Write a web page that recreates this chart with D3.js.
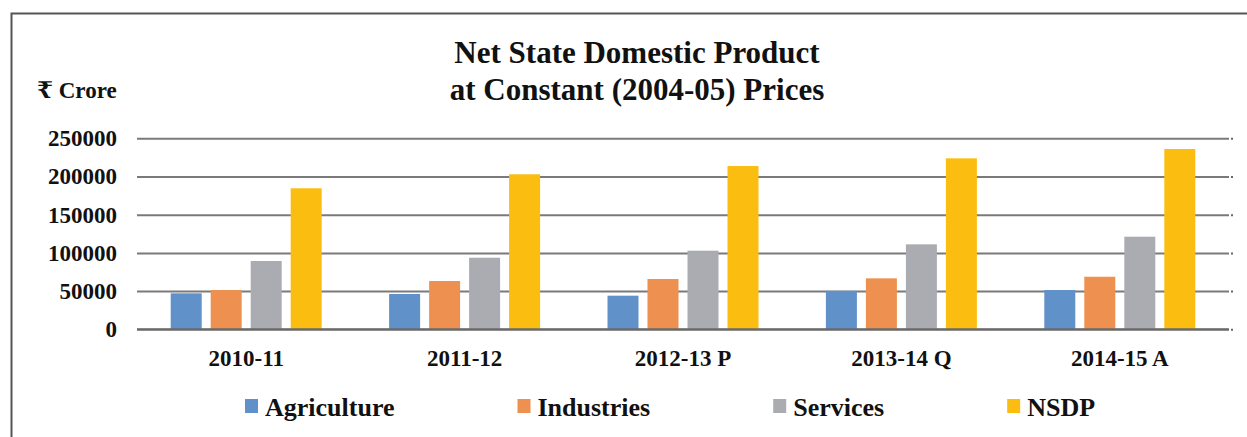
<!DOCTYPE html>
<html>
<head>
<meta charset="utf-8">
<script src="https://cdnjs.cloudflare.com/ajax/libs/d3/7.8.5/d3.min.js"></script>
<style>
  html, body { margin: 0; padding: 0; background: #fff; }
  svg { display: block; }
</style>
</head>
<body>
<div id="chart"></div>
<script>
// Net State Domestic Product at constant (2004-05) prices, ₹ crore
const categories = ["2010-11", "2011-12", "2012-13 P", "2013-14 Q", "2014-15 A"];
const seriesNames = ["Agriculture", "Industries", "Services", "NSDP"];
const agriculture = [47100, 46200, 44000, 50300, 51400];
const industries  = [51400, 63200, 65800, 66700, 68800];
const services    = [89400, 93700, 102900, 111200, 121200];
const nsdp        = [184600, 202900, 213700, 223800, 236000];
const yTicks = [0, 50000, 100000, 150000, 200000, 250000];
const titleLines = ["Net State Domestic Product", "at Constant (2004-05) Prices"];
const unitLabel = "₹ Crore";

const seriesValues = [agriculture, industries, services, nsdp];
const colors = ["#6191c9", "#ee9150", "#abacb2", "#fbbe10"];
const FONT = "'Liberation Serif', 'Times New Roman', 'DejaVu Serif', serif";

const W = 1247, H = 437;
const plot = { left: 137, right: 1229, top: 138.3, bottom: 329.3 };

const svg = d3.select("#chart").append("svg")
  .attr("width", W).attr("height", H)
  .attr("font-family", FONT);

function styleText(sel, size) {
  sel.style("font-family", FONT)
     .style("font-weight", "bold")
     .style("font-size", size + "px")
     .attr("fill", "#111");
  return sel;
}

// frame (top and left edges)
svg.append("path")
  .attr("d", `M11.5,${H} V13.5 H${W}`)
  .attr("fill", "none").attr("stroke", "#555").attr("stroke-width", 2);

const x0 = d3.scaleBand().domain(categories).range([plot.left, plot.right]).padding(0);
const groupW = 151;
const x1 = d3.scaleBand().domain(seriesNames)
  .range([(x0.bandwidth() - groupW) / 2, (x0.bandwidth() + groupW) / 2])
  .paddingInner(0.225).paddingOuter(0);
const y = d3.scaleLinear().domain([0, 250000]).range([plot.bottom, plot.top]);

// gridlines
const grid = svg.append("g")
  .attr("transform", `translate(${plot.left},0)`)
  .call(d3.axisRight(y).tickValues(yTicks).tickSize(plot.right - plot.left).tickFormat(""));
grid.select(".domain").remove();
grid.selectAll("line").attr("stroke", "#7a7a7a").attr("stroke-width", 2);

// small marks at the right end of each gridline
const rmarks = svg.append("g")
  .attr("transform", `translate(${plot.right + 2},0)`)
  .call(d3.axisRight(y).tickValues(yTicks).tickSize(2).tickFormat(""));
rmarks.select(".domain").remove();
rmarks.selectAll("line").attr("stroke", "#666").attr("stroke-width", 2);

// y axis labels
const yAxis = svg.append("g")
  .attr("transform", `translate(${plot.left},0)`)
  .call(d3.axisLeft(y).tickValues(yTicks).tickSize(0).tickPadding(20).tickFormat(d3.format("d")));
yAxis.select(".domain").remove();
styleText(yAxis.selectAll("text"), 23);

// bars
const groups = svg.append("g").selectAll("g")
  .data(categories)
  .join("g")
  .attr("transform", d => `translate(${x0(d)},0)`);

groups.selectAll("rect")
  .data((c, i) => seriesNames.map((s, k) => ({ s, k, v: seriesValues[k][i] })))
  .join("rect")
  .attr("x", d => x1(d.s))
  .attr("width", x1.bandwidth())
  .attr("y", d => y(d.v))
  .attr("height", d => y(0) - y(d.v))
  .attr("fill", d => colors[d.k]);

// baseline drawn over bars
svg.append("line")
  .attr("x1", plot.left).attr("x2", plot.right)
  .attr("y1", y(0)).attr("y2", y(0))
  .attr("stroke", "#6a6a6a").attr("stroke-width", 2);

// x axis labels
const xAxis = svg.append("g")
  .attr("transform", `translate(0,${plot.bottom})`)
  .call(d3.axisBottom(x0).tickSize(0).tickPadding(20));
xAxis.select(".domain").remove();
styleText(xAxis.selectAll("text"), 23);

// title
const title = svg.append("text")
  .attr("x", 637).attr("y", 63)
  .attr("text-anchor", "middle");
styleText(title, 31);
title.selectAll("tspan")
  .data(titleLines)
  .join("tspan")
  .attr("x", 637)
  .attr("dy", (d, i) => i === 0 ? 0 : 36.5)
  .text(d => d);

// unit label
styleText(svg.append("text").attr("x", 37).attr("y", 98).text(unitLabel), 23);

// legend
const legend = svg.append("g").attr("transform", "translate(245,0)");
let lx = 0;
seriesNames.forEach((name, k) => {
  const item = legend.append("g").attr("transform", `translate(${lx},0)`);
  item.append("rect")
    .attr("x", 0).attr("y", 399).attr("width", 13).attr("height", 14)
    .attr("fill", colors[k]);
  const t = styleText(item.append("text").attr("x", 20).attr("y", 416).text(name), 26);
  lx += 20 + t.node().getComputedTextLength() + 123;
});
</script>
</body>
</html>
